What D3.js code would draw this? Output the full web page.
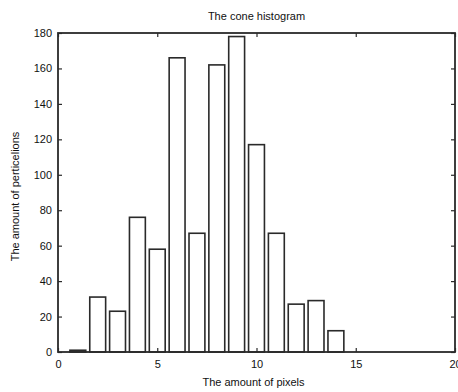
<!DOCTYPE html>
<html>
<head>
<meta charset="utf-8">
<script src="https://cdn.jsdelivr.net/npm/d3@7"></script>
<style>
  body { margin: 0; background: #fff; }
  svg { display: block; font-family: "Liberation Sans", Arial, sans-serif; }
</style>
</head>
<body>
<svg id="chart" width="458" height="392"></svg>
<script>
// bin centres and counts
const binCentres = [1, 2, 3, 4, 5, 6, 7, 8, 9, 10, 11, 12, 13, 14];
const counts = [1, 31, 23, 76, 58, 166, 67, 162, 178, 117, 67, 27, 29, 12];
const xTicks = [0, 5, 10, 15, 20];
const yTicks = [0, 20, 40, 60, 80, 100, 120, 140, 160, 180];

const svg = d3.select('#chart');
const margin = { top: 33, right: 3, bottom: 40, left: 58 };
const width = 458 - margin.left - margin.right;
const height = 392 - margin.top - margin.bottom;
const ink = '#2a2a2a';

const g = svg.append('g').attr('transform', 'translate(' + margin.left + ',' + margin.top + ')');

const x = d3.scaleLinear().domain([0, 20]).range([0, width]);
const y = d3.scaleLinear().domain([0, 180]).range([height, 0]);
const barW = x(0.8) - x(0);

// bars
g.selectAll('rect.bar')
  .data(binCentres)
  .enter().append('rect')
  .attr('class', 'bar')
  .attr('x', (d) => x(d) - barW / 2)
  .attr('y', (d, i) => y(counts[i]))
  .attr('width', barW)
  .attr('height', (d, i) => y(0) - y(counts[i]))
  .attr('fill', '#fff')
  .attr('stroke', ink)
  .attr('stroke-width', 1.6);

// axes, ticks pointing inward like matlab
const axes = [
  g.append('g').attr('transform', 'translate(0,' + height + ')')
    .call(d3.axisBottom(x).tickValues(xTicks).tickSize(-4).tickPadding(8)),
  g.append('g').call(d3.axisTop(x).tickValues(xTicks).tickSize(-4).tickFormat('')),
  g.append('g').call(d3.axisLeft(y).tickValues(yTicks).tickSize(-4).tickPadding(6)),
  g.append('g').attr('transform', 'translate(' + width + ',0)')
    .call(d3.axisRight(y).tickValues(yTicks).tickSize(-4).tickFormat(''))
];
axes.forEach((a) => {
  a.select('.domain').remove();
  a.selectAll('line').attr('stroke', ink).attr('stroke-width', 1.2);
  a.selectAll('text').attr('fill', '#111').style('font-size', '11px').style('font-family', '"Liberation Sans", Arial, sans-serif');
});

// box
g.append('rect')
  .attr('width', width)
  .attr('height', height)
  .attr('fill', 'none')
  .attr('stroke', ink)
  .attr('stroke-width', 1.8);

// title and labels
svg.append('text')
  .attr('x', margin.left + width / 2)
  .attr('y', 20)
  .attr('text-anchor', 'middle')
  .style('font-size', '11px')
  .attr('fill', '#111')
  .text('The cone histogram');

svg.append('text')
  .attr('x', margin.left + width / 2 - 3)
  .attr('y', 386)
  .attr('text-anchor', 'middle')
  .style('font-size', '11px')
  .attr('fill', '#111')
  .text('The amount of pixels');

svg.append('text')
  .attr('transform', 'translate(19,' + (margin.top + height / 2 + 4) + ') rotate(-90)')
  .attr('text-anchor', 'middle')
  .style('font-size', '11px')
  .attr('fill', '#111')
  .text('The amount of perticelions');
</script>
</body>
</html>
